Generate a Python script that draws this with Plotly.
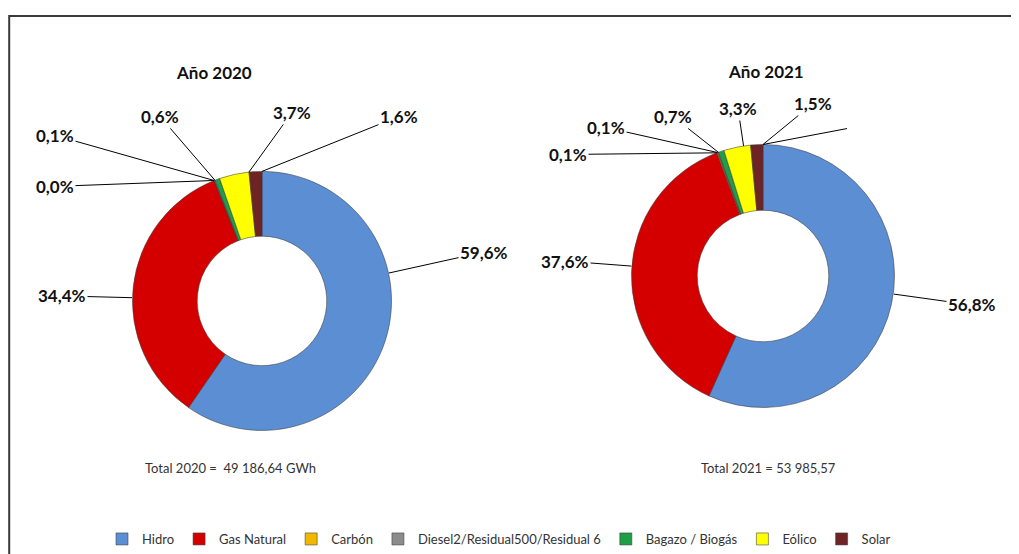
import math
import plotly.graph_objects as go

# ---------------- data ----------------
categories = ["Hidro", "Gas Natural", "Carbón", "Diesel2/Residual500/Residual 6",
              "Bagazo / Biogás", "Eólico", "Solar"]
share_2020 = [59.6, 34.4, 0.0, 0.1, 0.6, 3.7, 1.6]
share_2021 = [56.8, 37.6, 0.1, 0.1, 0.7, 3.3, 1.5]
titles = ["Año 2020", "Año 2021"]
totals = ["Total 2020 =  49 186,64 GWh", "Total 2021 = 53 985,57"]

# ---------------- style / layout ----------------
OFF = 8                      # page body margin of the browser
W, H = 1019 - OFF, 554 - OFF
colors = ["#5B8ED3", "#D40000", "#F2B800", "#8C8C8C", "#1F9E45", "#FFFF00", "#6E2424"]
FONT = "Lato"

# pie geometry in screen pixels: centre x, centre y, radius
pies = [
    dict(cx=262, cy=302, r=130),
    dict(cx=763, cy=277, r=132),
]
# label centres (screen pixels) for each slice
label_pos = [
    [(484, 253), (62, 297), (55, 187), (55, 136), (160, 117), (292, 113), (399, 117)],
    [(972, 306), (565, 262), (568, 155), (606, 128), (673, 117), (738, 109), (813, 104)],
]
title_pos = [(214, 73), (766, 72)]
total_pos = [(230, 470), (768, 470)]
stray_end = (847, 129)  # unlabeled leader line on the 2021 chart (Solar slice)
legend_center = (499, 541)


def px2paper(px, py):
    return (px - OFF) / W, 1 - (py - OFF) / H


def anchor_point(values, idx, pie, target):
    """Point on the outer ring of slice idx, facing target, clamped to the slice."""
    total = sum(values)
    start = sum(values[:idx]) / total * 2 * math.pi
    end = start + values[idx] / total * 2 * math.pi
    dx, dy = target[0] - pie["cx"], target[1] - pie["cy"]
    ang = math.atan2(dx, -dy) % (2 * math.pi)
    if not (start <= ang <= end):
        def cd(a, b):
            d = abs(a - b) % (2 * math.pi)
            return min(d, 2 * math.pi - d)
        ang = start if cd(ang, start) < cd(ang, end) else end
    return (pie["cx"] + pie["r"] * math.sin(ang), pie["cy"] - pie["r"] * math.cos(ang))


fig = go.Figure()
annotations = []
shapes = []

for k, (vals, pie) in enumerate(zip([share_2020, share_2021], pies)):
    x0, y1 = px2paper(pie["cx"] - pie["r"], pie["cy"] - pie["r"])
    x1, y0 = px2paper(pie["cx"] + pie["r"], pie["cy"] + pie["r"])
    fig.add_trace(go.Pie(
        labels=categories, values=vals, hole=0.5, sort=False,
        direction="clockwise", rotation=0,
        marker=dict(colors=colors, line=dict(color="rgba(60,60,60,0.55)", width=1)),
        textinfo="none", domain=dict(x=[x0, x1], y=[y0, y1]),
        name=titles[k], showlegend=(k == 0),
    ))
    for i, v in enumerate(vals):
        lp = label_pos[k][i]
        ax_, ay_ = anchor_point(vals, i, pie, lp)
        axp, ayp = px2paper(ax_, ay_)
        annotations.append(dict(
            x=axp, y=ayp, xref="paper", yref="paper",
            text="<b>" + f"{v:.1f}".replace(".", ",") + "%</b>",
            showarrow=True, arrowhead=0, arrowwidth=1, arrowcolor="#000000",
            ax=lp[0] - ax_, ay=lp[1] - ay_, standoff=0,
            font=dict(family=FONT, size=17, color="#111111"),
        ))
    tx, ty = px2paper(*title_pos[k])
    annotations.append(dict(x=tx, y=ty, xref="paper", yref="paper", showarrow=False,
                            xanchor="center", yanchor="middle",
                            text="<b>" + titles[k] + "</b>",
                            font=dict(family=FONT, size=17, color="#111111")))
    sx, sy = px2paper(*total_pos[k])
    annotations.append(dict(x=sx, y=sy, xref="paper", yref="paper", showarrow=False,
                            xanchor="center", yanchor="middle",
                            text=totals[k], font=dict(family=FONT, size=13, color="#333333")))

# stray unlabeled leader line (2021, Solar)
sa = anchor_point(share_2021, 6, pies[1], stray_end)
p0 = px2paper(*sa)
p1 = px2paper(*stray_end)
shapes.append(dict(type="line", xref="paper", yref="paper", x0=p0[0], y0=p0[1],
                   x1=p1[0], y1=p1[1], line=dict(color="#000000", width=1)))
# outer frame (left edge kept just inside the figure)
fx0, fy1 = px2paper(7, 16)
fx0 = max(fx0, 1.2 / W)
shapes.append(dict(type="rect", xref="paper", yref="paper", x0=fx0, y0=-0.05,
                   x1=1.05, y1=fy1, line=dict(color="#3a3a3a", width=2),
                   fillcolor="rgba(0,0,0,0)"))

lx, ly = px2paper(*legend_center)
fig.update_layout(
    width=W, height=H, margin=dict(l=0, r=0, t=0, b=0),
    paper_bgcolor="white", plot_bgcolor="white",
    annotations=annotations, shapes=shapes,
    legend=dict(orientation="h", x=lx, xanchor="center", y=ly, yanchor="middle",
                font=dict(family=FONT, size=13, color="#333333"), itemwidth=30,
                traceorder="normal"),
    font=dict(family=FONT),
)

fig.write_html("out.html")
